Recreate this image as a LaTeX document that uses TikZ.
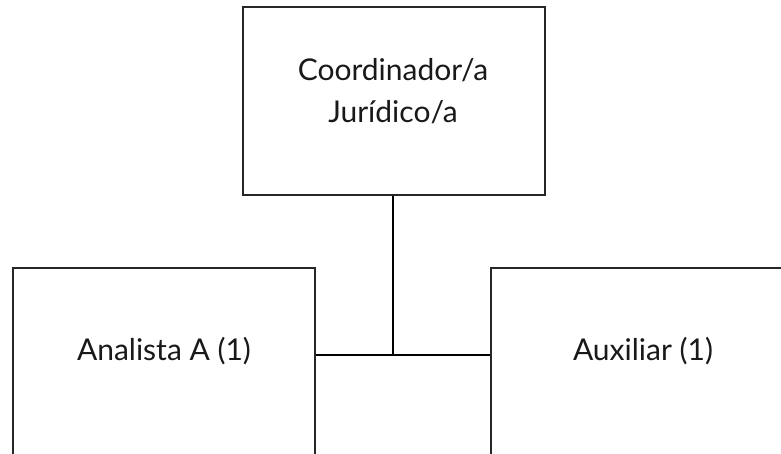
\documentclass[tikz,border=0pt]{standalone}
\usepackage{fontspec}
\setmainfont{Lato}
\begin{document}
\begin{tikzpicture}[x=1pt,y=-1pt,
  orgbox/.style={draw=black!85,line width=1.1pt,fill=none,inner sep=0pt},
  orgtext/.style={font=\fontsize{30}{42}\selectfont,align=center,text=black!90,inner sep=0pt},
  link/.style={draw=black,line width=1.3pt}]
  \useasboundingbox (0,0) rectangle (781,454);
  \clip (0,0) rectangle (781,454);
  % boxes
  \node[orgbox,minimum width=302pt,minimum height=188pt] (coord) at (394,101) {};
  \node[orgbox,minimum width=302pt,minimum height=220pt] (anal) at (164,378) {};
  \node[orgbox,minimum width=306pt,minimum height=220pt] (aux) at (644,378) {};
  % labels
  \node[orgtext] (coordt) at (393,91) {Coordinador/a\\Jurídico/a};
  \node[orgtext] (analt) at (164,351) {Analista A (1)};
  \node[orgtext] (auxt) at (643,351) {Auxiliar (1)};
  % connectors
  \coordinate (j) at (393,355);
  \draw[link] (coord.south -| j) -- (j);
  \draw[link] (anal.east |- j) -- (aux.west |- j);
\end{tikzpicture}
\end{document}
